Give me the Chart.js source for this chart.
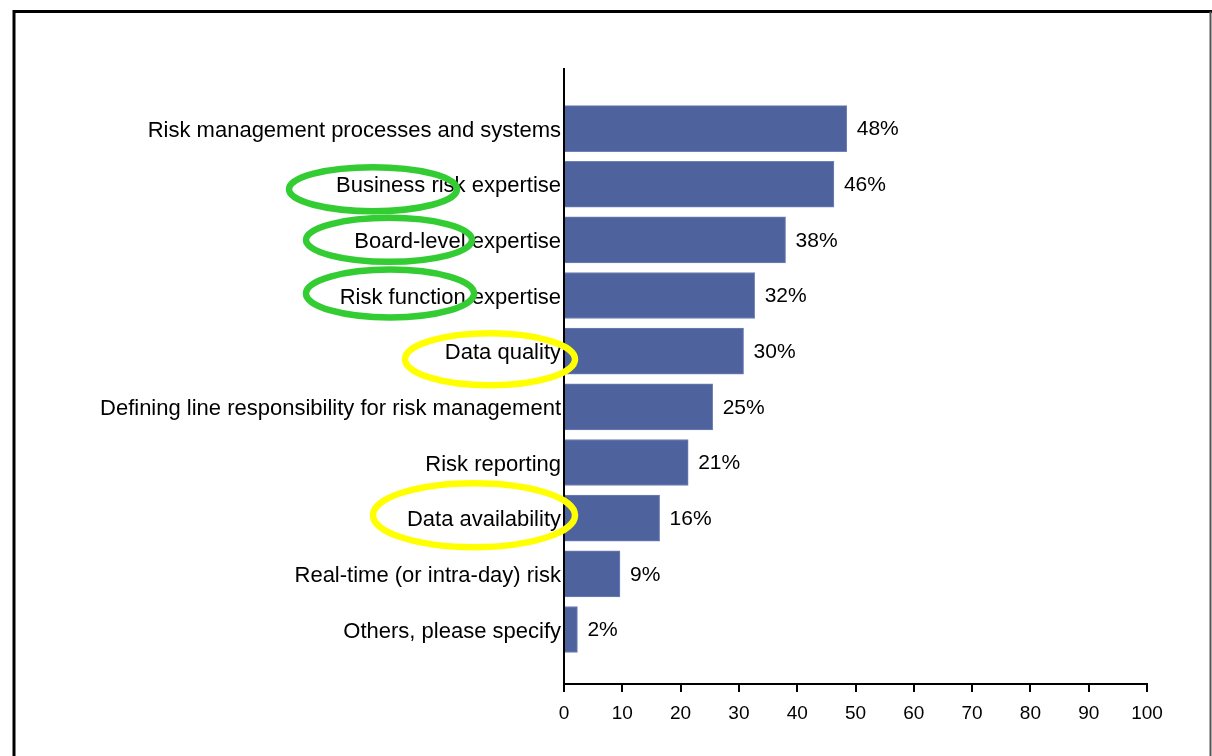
<!DOCTYPE html>
<html>
<head>
<meta charset="utf-8">
<script src="https://cdn.jsdelivr.net/npm/chart.js@4/dist/chart.umd.min.js"></script>
<style>
  html, body { margin: 0; padding: 0; background: #fff; }
  #wrap { position: relative; width: 1212px; height: 756px; }
</style>
</head>
<body>
<div id="wrap"><canvas id="c" width="1212" height="756"></canvas></div>
<script>
// ---- data ----
const categories = [
  'Risk management processes and systems',
  'Business risk expertise',
  'Board-level expertise',
  'Risk function expertise',
  'Data quality',
  'Defining line responsibility for risk management',
  'Risk reporting',
  'Data availability',
  'Real-time (or intra-day) risk',
  'Others, please specify'
];
const values = [48.5, 46.3, 38.0, 32.7, 30.8, 25.5, 21.3, 16.4, 9.6, 2.3];
const valueLabels = ['48%', '46%', '38%', '32%', '30%', '25%', '21%', '16%', '9%', '2%'];
const xTicks = [0, 10, 20, 30, 40, 50, 60, 70, 80, 90, 100];

// highlighted categories (annotation ellipses)
const greenMarked = [1, 2, 3];
const yellowMarked = [4, 7];

const FONT = '"Liberation Sans", Arial, sans-serif';

const ellipseGeom = {
  1: {cx: 373, dy: 5, rx: 84, ry: 22},
  2: {cx: 389, dy: 0, rx: 83, ry: 22},
  3: {cx: 390, dy: -2, rx: 84, ry: 24},
  4: {cx: 490, dy: 8, rx: 85, ry: 26},
  7: {cx: 474, dy: -3, rx: 101, ry: 32}
};

const decor = {
  id: 'decor',
  beforeDraw(chart) {
    const ctx = chart.ctx;
    ctx.save();
    ctx.fillStyle = '#fff';
    ctx.fillRect(0, 0, chart.width, chart.height);
    ctx.strokeStyle = '#000';
    ctx.lineWidth = 3;
    ctx.beginPath();
    ctx.moveTo(14, 760);
    ctx.lineTo(14, 11.5);
    ctx.lineTo(1212, 11.5);
    ctx.stroke();
    ctx.strokeStyle = '#555';
    ctx.lineWidth = 2;
    ctx.beginPath();
    ctx.moveTo(1210.5, 11.5);
    ctx.lineTo(1210.5, 760);
    ctx.stroke();
    ctx.restore();
  },
  afterDatasetsDraw(chart) {
    const ctx = chart.ctx;
    const meta = chart.getDatasetMeta(0);
    ctx.save();
    ctx.font = '21px ' + FONT;
    ctx.fillStyle = '#000';
    ctx.textAlign = 'left';
    ctx.textBaseline = 'middle';
    meta.data.forEach((bar, i) => {
      ctx.fillText(valueLabels[i], bar.x + 10, bar.y + 1);
    });
    ctx.restore();
  },
  afterDraw(chart) {
    const ctx = chart.ctx;
    const ys = chart.scales.y;
    ctx.save();
    ctx.lineWidth = 6.5;
    const drawE = (idx, color) => {
      const g = ellipseGeom[idx];
      const cy = ys.getPixelForValue(idx) + g.dy;
      ctx.strokeStyle = color;
      ctx.beginPath();
      ctx.ellipse(g.cx, cy, g.rx, g.ry, 0, 0, Math.PI * 2);
      ctx.stroke();
    };
    greenMarked.forEach(i => drawE(i, '#33CC33'));
    yellowMarked.forEach(i => drawE(i, '#FFFF00'));
    ctx.restore();
  }
};

new Chart(document.getElementById('c'), {
  type: 'bar',
  data: {
    datasets: [{
      data: values.map((v, i) => ({x: v, y: i})),
      backgroundColor: '#4E629E',
      borderColor: '#6F80B4',
      borderWidth: 1,
      barThickness: 46,
      categoryPercentage: 1,
      barPercentage: 0.84
    }]
  },
  options: {
    indexAxis: 'y',
    responsive: false,
    animation: false,
    devicePixelRatio: 1,
    layout: { padding: { top: 69, right: 65, bottom: 0, left: 0 } },
    plugins: { legend: { display: false }, tooltip: { enabled: false } },
    scales: {
      y: {
        type: 'linear',
        reverse: true,
        offset: false,
        min: -1.07,
        max: 9.98,
        afterFit(scale) { scale.width = 564; },
        grid: { display: false, drawTicks: false, offset: false },
        border: { display: true, color: '#000', width: 2 },
        ticks: {
          stepSize: 1,
          includeBounds: true,
          autoSkip: false,
          maxTicksLimit: 30,
          padding: 3,
          labelOffset: 2,
          color: '#000',
          font: { family: FONT, size: 22 },
          callback(v) {
            return Number.isInteger(v) && v >= 0 && v < categories.length ? categories[v] : '';
          }
        }
      },
      x: {
        type: 'linear',
        min: xTicks[0],
        max: xTicks[xTicks.length - 1],
        afterFit(scale) { scale.height = 72; },
        afterBuildTicks(scale) { scale.ticks = xTicks.map(v => ({value: v})); },
        grid: { display: true, drawOnChartArea: false, tickLength: 8, color: '#000', lineWidth: 2 },
        border: { display: true, color: '#000', width: 2 },
        ticks: {
          padding: 10,
          autoSkip: false,
          maxRotation: 0,
          color: '#000',
          font: { family: FONT, size: 19 }
        }
      }
    }
  },
  plugins: [decor]
});
</script>
</body>
</html>
